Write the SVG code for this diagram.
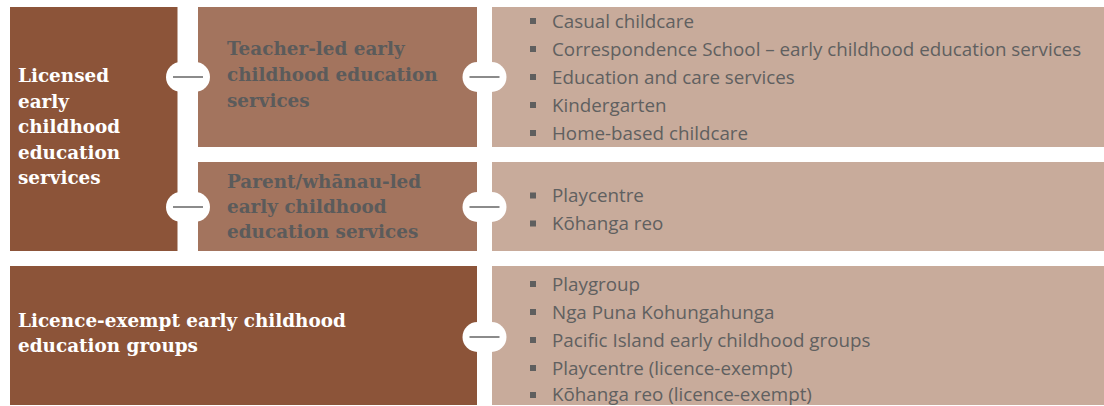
<svg xmlns="http://www.w3.org/2000/svg" width="1104" height="406" viewBox="0 0 1104 406">
  <style>
    .dark { fill: #8c5439; }
    .mid { fill: #a3745e; }
    .light { fill: #c8ab9b; }
    .head { font-family: "DejaVu Serif", "Liberation Serif", serif; font-weight: bold; font-size: 18.4px; }
    .head-w { fill: #ffffff; }
    .head-g { fill: #5b5b5b; }
    .item { font-family: "Open Sans", "DejaVu Sans", sans-serif; font-size: 18.8px; fill: #606060; }
    .bullet { fill: #5f5f5f; }
    .pill { fill: #ffffff; }
    .dash { stroke: #6e6e6e; stroke-width: 1.6; }
  </style>
  <defs>
    <!-- item bullet -->
    <rect id="sq" width="6" height="6" class="bullet"/>
    <!-- white joint with a short rule across a gap -->
    <g id="joint">
      <rect x="-22" y="-15" width="44" height="30" rx="15" ry="15" class="pill"/>
      <line x1="-15" y1="0" x2="15" y2="0" class="dash"/>
    </g>
  </defs>

  <rect width="1104" height="406" fill="#ffffff"/>

  <g id="licensed">
    <rect x="10" y="7" width="167.5" height="244" class="dark"/>
    <text class="head head-w">
      <tspan x="18" y="82">Licensed</tspan>
      <tspan x="18" y="107.5">early</tspan>
      <tspan x="18" y="133">childhood</tspan>
      <tspan x="18" y="158.5">education</tspan>
      <tspan x="18" y="184">services</tspan>
    </text>
  </g>

  <g id="teacher-led">
    <rect x="198" y="7" width="279" height="140" class="mid"/>
    <text class="head head-g">
      <tspan x="227" y="55">Teacher-led early</tspan>
      <tspan x="227" y="81">childhood education</tspan>
      <tspan x="227" y="106.5">services</tspan>
    </text>
  </g>

  <g id="parent-led">
    <rect x="198" y="162" width="279" height="89" class="mid"/>
    <text class="head head-g">
      <tspan x="227" y="188">Parent/whānau-led</tspan>
      <tspan x="227" y="213.3">early childhood</tspan>
      <tspan x="227" y="238.3">education services</tspan>
    </text>
  </g>

  <g id="teacher-led-list">
    <rect x="492" y="7" width="612" height="140" class="light"/>
    <use href="#sq" x="530" y="18"/>
    <use href="#sq" x="530" y="46"/>
    <use href="#sq" x="530" y="74"/>
    <use href="#sq" x="530" y="102"/>
    <use href="#sq" x="530" y="130"/>
    <text class="item">
      <tspan x="552" y="27.5">Casual childcare</tspan>
      <tspan x="552" y="55.5">Correspondence School – early childhood education services</tspan>
      <tspan x="552" y="83.5">Education and care services</tspan>
      <tspan x="552" y="111.5">Kindergarten</tspan>
      <tspan x="552" y="139.5">Home-based childcare</tspan>
    </text>
  </g>

  <g id="parent-led-list">
    <rect x="492" y="162" width="612" height="89" class="light"/>
    <use href="#sq" x="530" y="192.5"/>
    <use href="#sq" x="530" y="220.5"/>
    <text class="item">
      <tspan x="552" y="202">Playcentre</tspan>
      <tspan x="552" y="230">Kōhanga reo</tspan>
    </text>
  </g>

  <g id="licence-exempt">
    <rect x="10" y="266" width="467" height="139" class="dark"/>
    <text class="head head-w">
      <tspan x="18" y="326.5">Licence-exempt early childhood</tspan>
      <tspan x="18" y="351.5">education groups</tspan>
    </text>
  </g>

  <g id="licence-exempt-list">
    <rect x="492" y="266" width="612" height="139" class="light"/>
    <use href="#sq" x="530" y="281"/>
    <use href="#sq" x="530" y="309"/>
    <use href="#sq" x="530" y="337"/>
    <use href="#sq" x="530" y="365"/>
    <use href="#sq" x="530" y="392"/>
    <text class="item">
      <tspan x="552" y="290.5">Playgroup</tspan>
      <tspan x="552" y="318.5">Nga Puna Kohungahunga</tspan>
      <tspan x="552" y="346.5">Pacific Island early childhood groups</tspan>
      <tspan x="552" y="374.5">Playcentre (licence-exempt)</tspan>
      <tspan x="552" y="401">Kōhanga reo (licence-exempt)</tspan>
    </text>
  </g>

  <g id="connectors">
    <use href="#joint" x="188" y="77"/>
    <use href="#joint" x="188" y="207"/>
    <use href="#joint" x="484.5" y="77"/>
    <use href="#joint" x="484.5" y="207"/>
    <use href="#joint" x="484.5" y="337"/>
  </g>
</svg>
